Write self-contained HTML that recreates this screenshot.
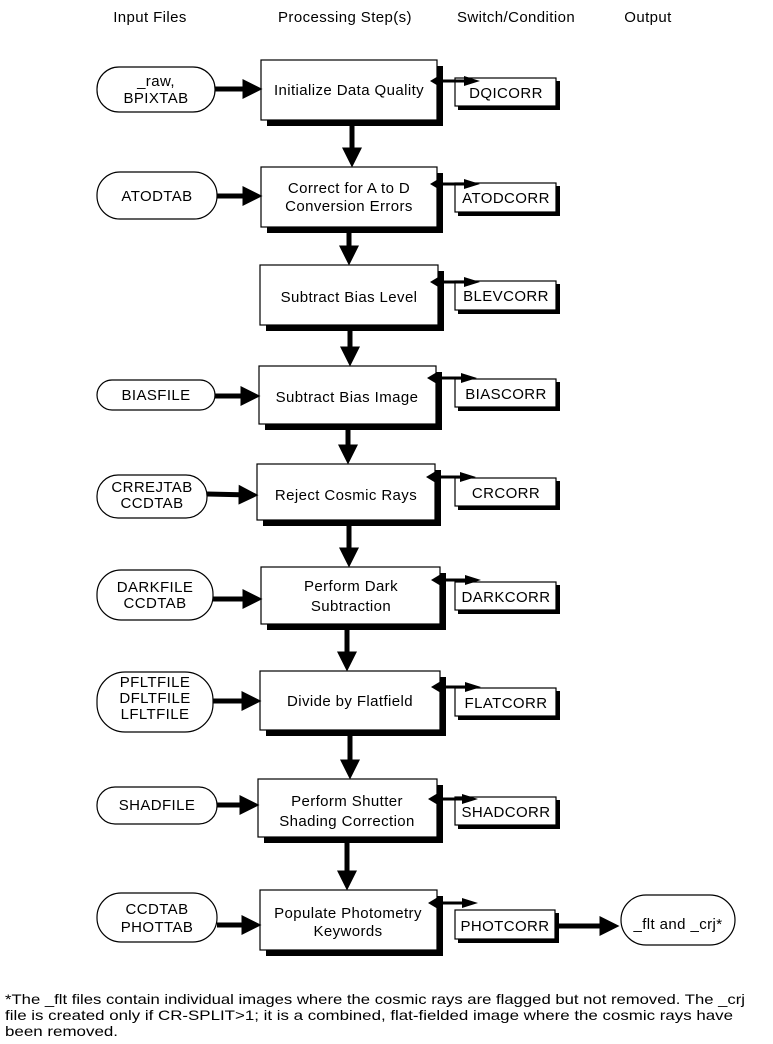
<!DOCTYPE html>
<html><head><meta charset="utf-8"><style>
html,body{margin:0;padding:0;background:#fff;}
svg{display:block;font-family:"Liberation Sans",sans-serif;}
text{font-size:15px;fill:#000;text-anchor:middle;letter-spacing:0.4px;}
.p{fill:#fff;stroke:#000;stroke-width:1.2;}
.s{fill:#000;}
.l{stroke:#000;stroke-width:5;}
</style></head><body>
<svg width="773" height="1044" viewBox="0 0 773 1044">
<defs>
<marker id="a" markerWidth="4" markerHeight="4" refX="2.5" refY="2" orient="auto" markerUnits="strokeWidth"><path d="M0,0 L4,2 L0,4 z" fill="#000"/></marker>
<g id="da">
<rect x="4" y="-1.5" width="36" height="3" fill="#000"/>
<polygon points="34,-5 50,0 34,5" fill="#000"/>
<polygon points="0,0 10,-6 10,6" fill="#000"/>
</g>
</defs>
<text x="150" y="22">Input Files</text>
<text x="345" y="22">Processing Step(s)</text>
<text x="516" y="22">Switch/Condition</text>
<text x="648" y="22">Output</text>

<!-- Row 1 -->
<rect class="s" x="267" y="66" width="176" height="60"/>
<rect class="p" x="261" y="60" width="176" height="60"/>
<text x="349" y="95">Initialize Data Quality</text>
<rect class="p" x="97" y="67" width="118" height="45" rx="22"/>
<text x="156" y="86">_raw,</text><text x="156" y="103">BPIXTAB</text>
<line class="l" x1="215" y1="89" x2="255" y2="89" marker-end="url(#a)"/>
<rect class="s" x="458" y="81" width="102" height="29"/>
<rect class="p" x="455" y="78" width="101" height="28"/>
<text x="506" y="98">DQICORR</text>
<use href="#da" x="430" y="81"/>
<line class="l" x1="352" y1="126" x2="352" y2="160" marker-end="url(#a)"/>

<!-- Row 2 -->
<rect class="s" x="267" y="173" width="176" height="60"/>
<rect class="p" x="261" y="167" width="176" height="60"/>
<text x="349" y="193">Correct for A to D</text><text x="349" y="211">Conversion Errors</text>
<rect class="p" x="97" y="172" width="120" height="47" rx="23"/>
<text x="157" y="201">ATODTAB</text>
<line class="l" x1="217" y1="196" x2="255" y2="196" marker-end="url(#a)"/>
<rect class="s" x="458" y="186" width="102" height="30"/>
<rect class="p" x="455" y="183" width="101" height="29"/>
<text x="506" y="203">ATODCORR</text>
<use href="#da" x="430" y="184"/>
<line class="l" x1="349" y1="233" x2="349" y2="258" marker-end="url(#a)"/>

<!-- Row 3 -->
<rect class="s" x="266" y="271" width="178" height="60"/>
<rect class="p" x="260" y="265" width="178" height="60"/>
<text x="349" y="302">Subtract Bias Level</text>
<rect class="s" x="458" y="284" width="102" height="30"/>
<rect class="p" x="455" y="281" width="101" height="29"/>
<text x="506" y="301">BLEVCORR</text>
<use href="#da" x="430" y="282"/>
<line class="l" x1="350" y1="331" x2="350" y2="359" marker-end="url(#a)"/>

<!-- Row 4 -->
<rect class="s" x="265" y="372" width="177" height="58"/>
<rect class="p" x="259" y="366" width="177" height="58"/>
<text x="347" y="402">Subtract Bias Image</text>
<rect class="p" x="97" y="380" width="118" height="30" rx="15"/>
<text x="156" y="400">BIASFILE</text>
<line class="l" x1="215" y1="396" x2="253" y2="396" marker-end="url(#a)"/>
<rect class="s" x="458" y="382" width="102" height="29"/>
<rect class="p" x="455" y="379" width="101" height="28"/>
<text x="506" y="399">BIASCORR</text>
<use href="#da" x="427" y="378"/>
<line class="l" x1="348" y1="430" x2="348" y2="457" marker-end="url(#a)"/>

<!-- Row 5 -->
<rect class="s" x="263" y="470" width="178" height="56"/>
<rect class="p" x="257" y="464" width="178" height="56"/>
<text x="346" y="500">Reject Cosmic Rays</text>
<rect class="p" x="97" y="475" width="110" height="43" rx="21"/>
<text x="152" y="492">CRREJTAB</text><text x="152" y="508">CCDTAB</text>
<line class="l" x1="207" y1="494" x2="251" y2="495" marker-end="url(#a)"/>
<rect class="s" x="458" y="481" width="102" height="29"/>
<rect class="p" x="455" y="478" width="101" height="28"/>
<text x="506" y="498">CRCORR</text>
<use href="#da" x="426" y="477"/>
<line class="l" x1="349" y1="526" x2="349" y2="560" marker-end="url(#a)"/>

<!-- Row 6 -->
<rect class="s" x="267" y="573" width="179" height="57"/>
<rect class="p" x="261" y="567" width="179" height="57"/>
<text x="351" y="591">Perform Dark</text><text x="351" y="611">Subtraction</text>
<rect class="p" x="97" y="570" width="116" height="50" rx="24"/>
<text x="155" y="592">DARKFILE</text><text x="155" y="608">CCDTAB</text>
<line class="l" x1="213" y1="599" x2="255" y2="599" marker-end="url(#a)"/>
<rect class="s" x="458" y="585" width="102" height="29"/>
<rect class="p" x="455" y="582" width="101" height="28"/>
<text x="506" y="602">DARKCORR</text>
<use href="#da" x="431" y="580"/>
<line class="l" x1="347" y1="630" x2="347" y2="664" marker-end="url(#a)"/>

<!-- Row 7 -->
<rect class="s" x="266" y="677" width="180" height="59"/>
<rect class="p" x="260" y="671" width="180" height="59"/>
<text x="350" y="706">Divide by Flatfield</text>
<rect class="p" x="97" y="672" width="116" height="60" rx="28"/>
<text x="155" y="687">PFLTFILE</text><text x="155" y="703">DFLTFILE</text><text x="155" y="719">LFLTFILE</text>
<line class="l" x1="213" y1="701" x2="254" y2="701" marker-end="url(#a)"/>
<rect class="s" x="458" y="691" width="102" height="29"/>
<rect class="p" x="455" y="688" width="101" height="28"/>
<text x="506" y="708">FLATCORR</text>
<use href="#da" x="431" y="687"/>
<line class="l" x1="350" y1="736" x2="350" y2="772" marker-end="url(#a)"/>

<!-- Row 8 -->
<rect class="s" x="264" y="785" width="179" height="58"/>
<rect class="p" x="258" y="779" width="179" height="58"/>
<text x="347" y="806">Perform Shutter</text><text x="347" y="826">Shading Correction</text>
<rect class="p" x="97" y="787" width="120" height="37" rx="18"/>
<text x="157" y="810">SHADFILE</text>
<line class="l" x1="217" y1="805" x2="252" y2="805" marker-end="url(#a)"/>
<rect class="s" x="458" y="800" width="102" height="29"/>
<rect class="p" x="455" y="797" width="101" height="28"/>
<text x="506" y="817">SHADCORR</text>
<use href="#da" x="428" y="799"/>
<line class="l" x1="347" y1="843" x2="347" y2="883" marker-end="url(#a)"/>

<!-- Row 9 -->
<rect class="s" x="266" y="896" width="177" height="60"/>
<rect class="p" x="260" y="890" width="177" height="60"/>
<text x="348" y="918">Populate Photometry</text><text x="348" y="936">Keywords</text>
<rect class="p" x="97" y="893" width="120" height="49" rx="24"/>
<text x="157" y="914">CCDTAB</text><text x="157" y="932">PHOTTAB</text>
<line class="l" x1="217" y1="925" x2="254" y2="925" marker-end="url(#a)"/>
<rect class="s" x="458" y="913" width="101" height="30"/>
<rect class="p" x="455" y="910" width="100" height="29"/>
<text x="505" y="931">PHOTCORR</text>
<use href="#da" x="428" y="903"/>
<line class="l" x1="559" y1="926" x2="612" y2="926" marker-end="url(#a)"/>
<rect class="p" x="621" y="895" width="114" height="50" rx="25"/>
<text x="678" y="929">_flt and  _crj*</text>

<text x="5" y="1004" textLength="740" lengthAdjust="spacingAndGlyphs" style="text-anchor:start;font-size:14px;letter-spacing:0">*The _flt files contain individual images where the cosmic rays are flagged but not removed. The _crj</text>
<text x="5" y="1020" textLength="728" lengthAdjust="spacingAndGlyphs" style="text-anchor:start;font-size:14px;letter-spacing:0">file is created only if CR-SPLIT&gt;1; it is a combined, flat-fielded image where the cosmic rays have</text>
<text x="5" y="1036" textLength="113" lengthAdjust="spacingAndGlyphs" style="text-anchor:start;font-size:14px;letter-spacing:0">been removed.</text>
</svg>
</body></html>
